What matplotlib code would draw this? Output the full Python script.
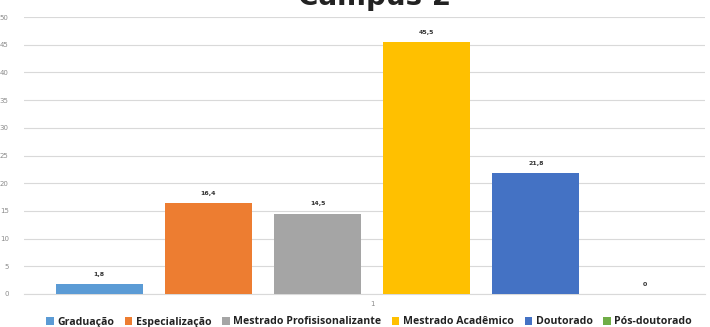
import matplotlib.pyplot as plt
import numpy as np

series = ['Graduação', 'Especialização', 'Mestrado Profisisonalizante',
          'Mestrado Acadêmico', 'Doutorado', 'Pós-doutorado']
values = [1.8, 16.4, 14.5, 45.5, 21.8, 0]
labels = ['1,8', '16,4', '14,5', '45,5', '21,8', '0']
colors = ['#5B9BD5', '#ED7D31', '#A5A5A5', '#FFC000', '#4472C4', '#70AD47']
category = '1'
title = 'Campus 2'

fig = plt.figure(figsize=(7.1, 3.27), dpi=100)
ax = fig.add_axes([24 / 710, 1 - 294 / 327, 681 / 710, 277 / 327])

x = np.arange(len(series))
bars = ax.bar(x, values, width=0.8, color=colors, label=series, zorder=3)
for b, lab in zip(bars, labels):
    ax.text(b.get_x() + b.get_width() / 2, b.get_height() + 1.3, lab,
            ha='center', va='bottom', fontsize=4.5, fontweight='bold', color='#333333')

ax.set_ylim(0, 50)
ax.set_xlim(-0.69, 5.55)
ax.set_yticks(range(0, 51, 5))
ax.set_xticks([2.5])
ax.set_xticklabels([category])
ax.tick_params(axis='both', length=0, labelsize=5, labelcolor='#8c8c8c')
ax.tick_params(axis='y', pad=11)
ax.tick_params(axis='x', pad=5)
ax.grid(axis='y', color='#D9D9D9', linewidth=0.8, zorder=0)
for s in ['top', 'right', 'left']:
    ax.spines[s].set_visible(False)
ax.spines['bottom'].set_color('#D9D9D9')
ax.spines['bottom'].set_linewidth(0.8)

fig.text(0.528, 1 - 5 / 327, title, ha='center', va='baseline',
         fontsize=20, fontweight='bold', color='#222222')

leg = fig.legend(handles=bars, labels=series, loc='center', bbox_to_anchor=(0.52, 1 - 322 / 327),
                 ncol=6, frameon=False, handlelength=0.7, handleheight=0.7,
                 handletextpad=0.35, columnspacing=1.0,
                 prop={'family': 'Open Sans', 'weight': 'bold', 'size': 7.6})
for t in leg.get_texts():
    t.set_color('#222222')

fig.savefig('out.png', dpi=100)
